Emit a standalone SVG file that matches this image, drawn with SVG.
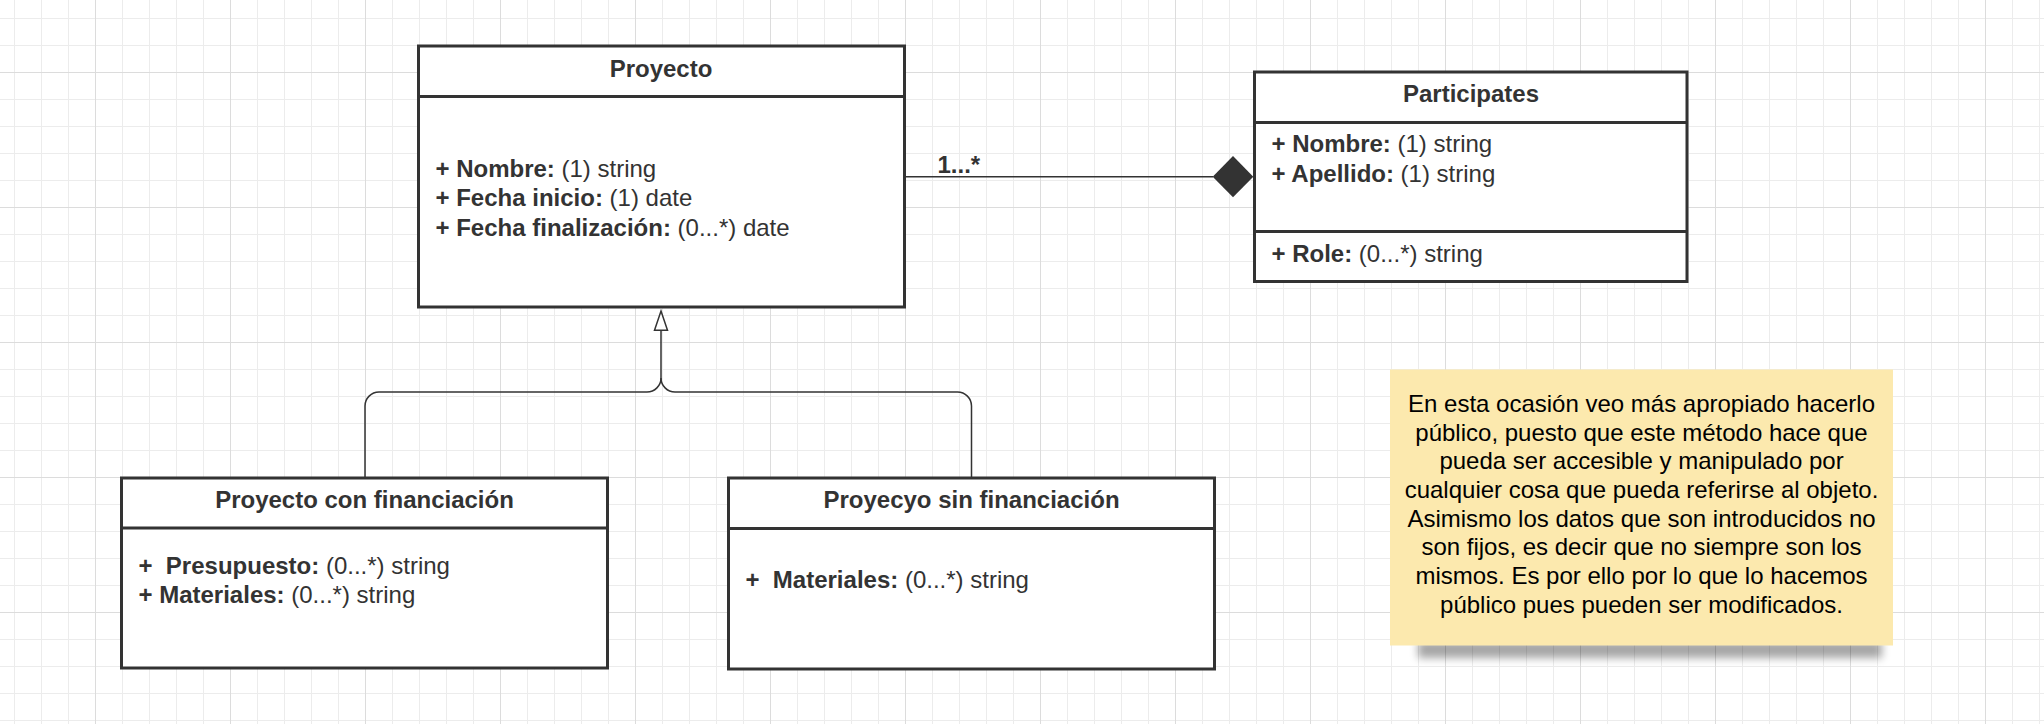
<svg xmlns="http://www.w3.org/2000/svg" width="2044" height="724" viewBox="0 0 2044 724">
<style>
text { font-family: "Liberation Sans", Arial, sans-serif; font-size: 24px; fill: #333333; }
.title { font-weight: bold; text-anchor: middle; }
.b { font-weight: bold; }
.box { fill: #ffffff; stroke: #333333; stroke-width: 3; }
.div { stroke: #333333; stroke-width: 3; }
.conn { fill: none; stroke: #333333; stroke-width: 1.5; }
.note { fill: #000000; text-anchor: middle; }
</style>
<defs>
<pattern id="grid" x="95" y="72" width="135" height="135" patternUnits="userSpaceOnUse">
<path d="M27.5 0V135M54.5 0V135M81.5 0V135M108.5 0V135M0 27.5H135M0 54.5H135M0 81.5H135M0 108.5H135" stroke="#ececec" stroke-width="1" fill="none"/>
<path d="M0.5 0V135M0 0.5H135" stroke="#dcdcdc" stroke-width="1" fill="none"/>
</pattern>
<filter id="blur" x="-10%" y="-100%" width="120%" height="300%">
<feGaussianBlur stdDeviation="4"/>
</filter>
</defs>
<rect x="0" y="0" width="2044" height="724" fill="#ffffff"/>
<rect x="0" y="0" width="2044" height="724" fill="url(#grid)"/>

<g id="connectors">
<line class="conn" x1="904.5" y1="176.7" x2="1213" y2="176.7"/>
<polygon points="1212.7,176.7 1233,156 1253.3,176.7 1233,197.3" fill="#333333"/>
<text class="b" x="937.5" y="172.7" font-size="23">1...*</text>
<path class="conn" d="M661 330V378A14 14 0 0 1 647 392H379A14 14 0 0 0 365 406V478"/>
<path class="conn" d="M661 378A14 14 0 0 0 675 392H957.5A14 14 0 0 1 971.5 406V478"/>
<polygon points="661,311 667.5,330.3 654.5,330.3" fill="#ffffff" stroke="#333333" stroke-width="1.5"/>
</g>

<g id="proyecto">
<rect class="box" x="418.5" y="46" width="486" height="261"/>
<line class="div" x1="418.5" y1="96.5" x2="904.5" y2="96.5"/>
<text class="title" x="661" y="77">Proyecto</text>
<text x="435.5" y="177"><tspan class="b">+ Nombre:</tspan> (1) string</text>
<text x="435.5" y="206"><tspan class="b">+ Fecha inicio:</tspan> (1) date</text>
<text x="435.5" y="235.5"><tspan class="b">+ Fecha finalización:</tspan> (0...*) date</text>
</g>

<g id="participates">
<rect class="box" x="1254.5" y="72" width="432.5" height="209.5"/>
<line class="div" x1="1254.5" y1="122.5" x2="1687" y2="122.5"/>
<line class="div" x1="1254.5" y1="231.5" x2="1687" y2="231.5"/>
<text class="title" x="1471" y="101.7">Participates</text>
<text x="1271.5" y="152.3"><tspan class="b">+ Nombre:</tspan> (1) string</text>
<text x="1271.5" y="181.7"><tspan class="b">+ Apellido:</tspan> (1) string</text>
<text x="1271.5" y="261.7"><tspan class="b">+ Role:</tspan> (0...*) string</text>
</g>

<g id="proyecto-con-financiacion">
<rect class="box" x="121.5" y="478" width="486" height="190"/>
<line class="div" x1="121.5" y1="528" x2="607.5" y2="528"/>
<text class="title" x="364.5" y="508.3">Proyecto con financiación</text>
<text x="138.5" y="574" xml:space="preserve"><tspan class="b">+  Presupuesto:</tspan> (0...*) string</text>
<text x="138.5" y="603.3"><tspan class="b">+ Materiales:</tspan> (0...*) string</text>
</g>

<g id="proyecto-sin-financiacion">
<rect class="box" x="728.5" y="478" width="486" height="191"/>
<line class="div" x1="728.5" y1="528.5" x2="1214.5" y2="528.5"/>
<text class="title" x="971.5" y="508">Proyecyo sin financiación</text>
<text x="745.5" y="588.3" xml:space="preserve"><tspan class="b">+  Materiales:</tspan> (0...*) string</text>
</g>

<g id="note">
<rect x="1418" y="641" width="464" height="17" fill="#000000" opacity="0.35" filter="url(#blur)"/>
<rect x="1390" y="369.5" width="503" height="276" fill="#FCE9AE"/>
<text class="note" x="1641.5" y="411.7">En esta ocasión veo más apropiado hacerlo</text>
<text class="note" x="1641.5" y="440.5">público, puesto que este método hace que</text>
<text class="note" x="1641.5" y="469.3">pueda ser accesible y manipulado por</text>
<text class="note" x="1641.5" y="498">cualquier cosa que pueda referirse al objeto.</text>
<text class="note" x="1641.5" y="526.7">Asimismo los datos que son introducidos no</text>
<text class="note" x="1641.5" y="555.3">son fijos, es decir que no siempre son los</text>
<text class="note" x="1641.5" y="584">mismos. Es por ello por lo que lo hacemos</text>
<text class="note" x="1641.5" y="612.5">público pues pueden ser modificados.</text>
</g>
</svg>
